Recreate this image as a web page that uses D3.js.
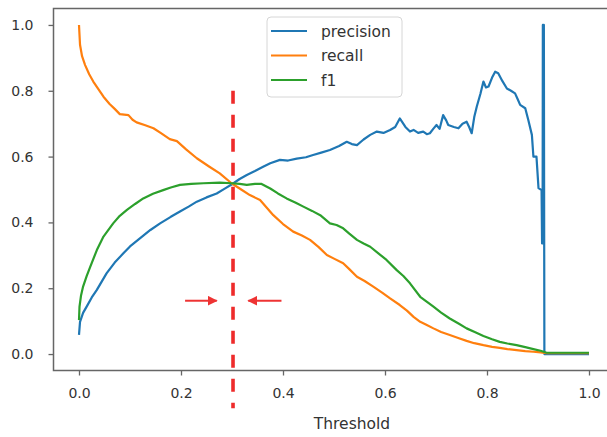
<!DOCTYPE html>
<html>
<head>
<meta charset="utf-8">
<script src="https://cdn.jsdelivr.net/npm/d3@7"></script>
<style>
  body { margin: 0; background: #fff; }
  svg { display: block; font-family: "DejaVu Sans", sans-serif; }
</style>
</head>
<body>
<div id="chart"></div>
<script>
// values (threshold, score)
var precisionT = [0, 0.002, 0.008, 0.015, 0.025, 0.035, 0.054, 0.07, 0.087, 0.1, 0.12, 0.14, 0.159, 0.18, 0.198, 0.215, 0.231, 0.25, 0.27, 0.285, 0.3, 0.315, 0.329, 0.345, 0.361, 0.375, 0.394, 0.41, 0.427, 0.445, 0.459, 0.475, 0.492, 0.51, 0.525, 0.535, 0.545, 0.558, 0.571, 0.584, 0.597, 0.61, 0.62, 0.629, 0.64, 0.649, 0.656, 0.665, 0.675, 0.682, 0.688, 0.695, 0.701, 0.707, 0.714, 0.72, 0.724, 0.735, 0.744, 0.752, 0.76, 0.765, 0.77, 0.775, 0.78, 0.787, 0.793, 0.798, 0.803, 0.81, 0.816, 0.822, 0.83, 0.839, 0.847, 0.855, 0.86, 0.865, 0.875, 0.881, 0.888, 0.891, 0.897, 0.901, 0.907, 0.908, 0.909, 0.9095, 0.9105, 0.9115, 0.9125, 1.0];
var precision = [0.058, 0.098, 0.125, 0.144, 0.172, 0.195, 0.245, 0.278, 0.306, 0.327, 0.352, 0.377, 0.397, 0.417, 0.433, 0.448, 0.463, 0.476, 0.488, 0.502, 0.516, 0.532, 0.544, 0.556, 0.569, 0.58, 0.59, 0.588, 0.594, 0.598, 0.605, 0.612, 0.62, 0.632, 0.645, 0.638, 0.635, 0.652, 0.666, 0.676, 0.672, 0.681, 0.69, 0.716, 0.69, 0.676, 0.681, 0.672, 0.676, 0.668, 0.671, 0.685, 0.696, 0.684, 0.726, 0.71, 0.696, 0.69, 0.686, 0.7, 0.706, 0.69, 0.671, 0.72, 0.752, 0.79, 0.828, 0.81, 0.813, 0.84, 0.858, 0.853, 0.83, 0.807, 0.8, 0.792, 0.775, 0.757, 0.747, 0.711, 0.666, 0.6, 0.6, 0.504, 0.498, 0.336, 0.336, 1.0, 0.34, 1.0, 0, 0];

var recallT = [0, 0.002, 0.006, 0.012, 0.02, 0.028, 0.038, 0.048, 0.06, 0.07, 0.08, 0.097, 0.105, 0.113, 0.13, 0.146, 0.16, 0.178, 0.192, 0.21, 0.231, 0.255, 0.276, 0.299, 0.318, 0.335, 0.355, 0.381, 0.4, 0.42, 0.437, 0.453, 0.47, 0.486, 0.5, 0.518, 0.53, 0.545, 0.56, 0.577, 0.595, 0.61, 0.629, 0.643, 0.656, 0.669, 0.68, 0.695, 0.71, 0.727, 0.745, 0.76, 0.775, 0.793, 0.81, 0.825, 0.84, 0.858, 0.875, 0.891, 0.905, 0.917, 1.0];
var recall = [1.0, 0.94, 0.905, 0.878, 0.85, 0.828, 0.805, 0.782, 0.76, 0.745, 0.729, 0.726, 0.712, 0.704, 0.695, 0.686, 0.672, 0.653, 0.647, 0.622, 0.595, 0.57, 0.549, 0.519, 0.5, 0.483, 0.468, 0.422, 0.395, 0.372, 0.36, 0.347, 0.325, 0.301, 0.29, 0.276, 0.258, 0.235, 0.222, 0.205, 0.186, 0.169, 0.149, 0.132, 0.113, 0.098, 0.09, 0.078, 0.067, 0.058, 0.048, 0.04, 0.033, 0.027, 0.022, 0.019, 0.015, 0.012, 0.009, 0.007, 0.005, 0.003, 0.003];

var f1T = [0, 0.001, 0.004, 0.008, 0.015, 0.022, 0.035, 0.048, 0.067, 0.08, 0.094, 0.11, 0.126, 0.145, 0.165, 0.18, 0.198, 0.22, 0.244, 0.276, 0.299, 0.315, 0.329, 0.345, 0.358, 0.375, 0.39, 0.407, 0.425, 0.44, 0.457, 0.473, 0.492, 0.505, 0.518, 0.53, 0.545, 0.558, 0.571, 0.587, 0.603, 0.623, 0.636, 0.649, 0.669, 0.683, 0.695, 0.71, 0.727, 0.745, 0.76, 0.777, 0.793, 0.81, 0.825, 0.84, 0.858, 0.875, 0.891, 0.905, 0.917, 1.0];
var f1 = [0.103, 0.144, 0.178, 0.205, 0.237, 0.265, 0.316, 0.357, 0.397, 0.42, 0.438, 0.456, 0.473, 0.487, 0.498, 0.506, 0.514, 0.517, 0.519, 0.521, 0.519, 0.517, 0.514, 0.517, 0.517, 0.503, 0.488, 0.473, 0.46, 0.448, 0.435, 0.422, 0.397, 0.392, 0.382, 0.366, 0.347, 0.336, 0.326, 0.306, 0.286, 0.255, 0.237, 0.215, 0.174, 0.158, 0.144, 0.126, 0.108, 0.092, 0.078, 0.066, 0.055, 0.045, 0.037, 0.032, 0.027, 0.021, 0.015, 0.01, 0.004, 0.004];

var seriesNames = ["precision", "recall", "f1"];
var seriesColors = ["#1f77b4", "#ff7f0e", "#2ca02c"];
var tickValues = [0.0, 0.2, 0.4, 0.6, 0.8, 1.0];

// chosen threshold annotation
var cutoff = 0.302;
var cutoffTop = 0.8, cutoffBottom = -0.165;
var arrowY = 0.162;
var leftArrow = [0.208, 0.27];
var rightArrow = [0.397, 0.332];

var width = 607, height = 437;

var svg = d3.select("#chart").append("svg")
	.attr("width", width)
	.attr("height", height);

// axes extend past the right edge, the original image was cropped
var x = d3.scaleLinear().domain([-0.05, 1.05]).range([53.5, 614.5]);
var y = d3.scaleLinear().domain([-0.05, 1.05]).range([370.5, 8.5]);

svg.append("defs").append("marker")
	.attr("id", "head")
	.attr("viewBox", "0 0 10 10")
	.attr("refX", 9).attr("refY", 5)
	.attr("markerWidth", 5).attr("markerHeight", 5)
	.attr("markerUnits", "strokeWidth")
	.attr("orient", "auto")
  .append("path")
	.attr("d", "M0,0 L10,5 L0,10 z")
	.attr("fill", "#ee3333");

var line = d3.line()
	.x(function(d) { return x(d[0]); })
	.y(function(d) { return y(d[1]); });

var allT = [precisionT, recallT, f1T];
var allV = [precision, recall, f1];

allV.forEach(function(vals, i) {
	let pts = vals.map(function(v, j) { return [allT[i][j], v]; });
	svg.append("path")
		.datum(pts)
		.attr("fill", "none")
		.attr("stroke", seriesColors[i])
		.attr("stroke-width", 2.2)
		.attr("stroke-linejoin", "round")
		.attr("d", line);
});

// frame (left, top, bottom spines visible)
svg.append("rect")
	.attr("x", x.range()[0]).attr("y", y.range()[1])
	.attr("width", x.range()[1] - x.range()[0])
	.attr("height", y.range()[0] - y.range()[1])
	.attr("fill", "none")
	.attr("stroke", "#666")
	.attr("stroke-width", 1.5);

var xAxis = svg.append("g")
	.attr("transform", "translate(0," + y.range()[0] + ")")
	.call(d3.axisBottom(x).tickValues(tickValues).tickFormat(d3.format(".1f")).tickSize(5).tickPadding(13));
var yAxis = svg.append("g")
	.attr("transform", "translate(" + x.range()[0] + ",0)")
	.call(d3.axisLeft(y).tickValues(tickValues).tickFormat(d3.format(".1f")).tickSize(5).tickPadding(15));

[xAxis, yAxis].forEach(function(g) {
	g.select(".domain").remove();
	g.selectAll(".tick line").attr("stroke", "#666").attr("stroke-width", 1.3);
	g.selectAll(".tick text")
		.attr("fill", "#333")
		.style("font-size", "14px")
		.style("font-family", "'DejaVu Sans', sans-serif");
});

svg.append("text")
	.attr("x", 352).attr("y", 429)
	.attr("text-anchor", "middle")
	.attr("fill", "#333")
	.style("font-size", "15.5px")
	.text("Threshold");

// red dashed cutoff + arrows
svg.append("line")
	.attr("x1", x(cutoff)).attr("x2", x(cutoff))
	.attr("y1", y(cutoffTop)).attr("y2", y(cutoffBottom))
	.attr("stroke", "#ee2b2b")
	.attr("stroke-width", 3.6)
	.attr("stroke-dasharray", "13,11");

[leftArrow, rightArrow].forEach(function(a) {
	svg.append("line")
		.attr("x1", x(a[0])).attr("x2", x(a[1]))
		.attr("y1", y(arrowY)).attr("y2", y(arrowY))
		.attr("stroke", "#ee3333")
		.attr("stroke-width", 2)
		.attr("marker-end", "url(#head)");
});

// legend
var legend = svg.append("g").attr("transform", "translate(267,17)");
legend.append("rect")
	.attr("width", 135).attr("height", 80)
	.attr("rx", 4)
	.attr("fill", "#fff").attr("fill-opacity", 0.85)
	.attr("stroke", "#d6d6d6");

seriesNames.forEach(function(name, i) {
	let ly = 14 + i * 24.5;
	legend.append("line")
		.attr("x1", 4).attr("x2", 40)
		.attr("y1", ly).attr("y2", ly)
		.attr("stroke", seriesColors[i])
		.attr("stroke-width", 2.2);
	legend.append("text")
		.attr("x", 54).attr("y", ly + 5.5)
		.attr("fill", "#333")
		.style("font-size", "15.5px")
		.text(name);
});
</script>
</body>
</html>
